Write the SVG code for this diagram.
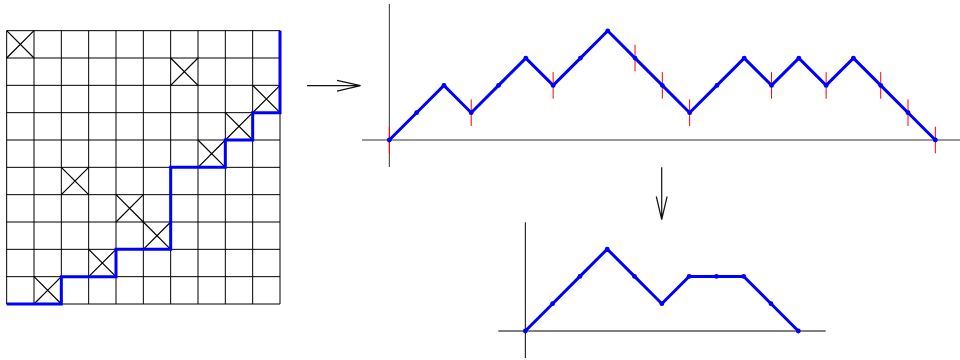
<svg xmlns="http://www.w3.org/2000/svg" width="960" height="360" viewBox="0 0 960 360">
<style>
.grid{stroke:#000;stroke-width:1;fill:none}
.cross{stroke:#000;stroke-width:1.2;fill:none}
.blue{stroke:#0000ff;stroke-width:3;fill:none;stroke-linejoin:miter}
.axis{stroke:#333;stroke-width:1;fill:none}
.tick{stroke:#ff0000;stroke-width:1}
.dot{fill:#0000ff}
.arrow{stroke:#111;stroke-width:1.2;fill:none}
</style>
<rect width="960" height="360" fill="#fff"/>
<g id="grid-matrix">
<path class="grid" d="M6.67,30.67H280M6.67,58H280M6.67,85.33H280M6.67,112.67H280M6.67,140H280M6.67,167.33H280M6.67,194.67H280M6.67,222H280M6.67,249.33H280M6.67,276.67H280M6.67,304H280M6.67,30.67V304M34,30.67V304M61.33,30.67V304M88.67,30.67V304M116,30.67V304M143.33,30.67V304M170.67,30.67V304M198,30.67V304M225.33,30.67V304M252.67,30.67V304M280,30.67V304"/>
<path class="cross" d="M6.67,30.67L34,58M34,30.67L6.67,58M170.67,58L198,85.33M198,58L170.67,85.33M252.67,85.33L280,112.67M280,85.33L252.67,112.67M225.33,112.67L252.67,140M252.67,112.67L225.33,140M198,140L225.33,167.33M225.33,140L198,167.33M61.33,167.33L88.67,194.67M88.67,167.33L61.33,194.67M116,194.67L143.33,222M143.33,194.67L116,222M143.33,222L170.67,249.33M170.67,222L143.33,249.33M88.67,249.33L116,276.67M116,249.33L88.67,276.67M34,276.67L61.33,304M61.33,276.67L34,304"/>
<path class="blue" d="M6.67,304H61.33V276.67H116V249.33H170.67V167.33H225.33V140H252.67V112.67H280V30.67"/>
</g>
<g id="path-top">
<path class="axis" d="M389.33,4V167M362,140H960"/>
<path class="tick" d="M389.33,126.7V153.3M471.23,99.4V126M553.13,72.1V98.7M635.03,44.8V71.4M662.33,72.1V98.7M689.63,99.4V126M771.53,72.1V98.7M826.13,72.1V98.7M880.73,72.1V98.7M908.03,99.4V126M935.33,126.7V153.3"/>
<polyline class="blue" points="389.33,140 416.63,112.7 443.93,85.4 471.23,112.7 498.53,85.4 525.83,58.1 553.13,85.4 580.43,58.1 607.73,30.8 635.03,58.1 662.33,85.4 689.63,112.7 716.93,85.4 744.23,58.1 771.53,85.4 798.83,58.1 826.13,85.4 853.43,58.1 880.73,85.4 908.03,112.7 935.33,140"/>
<g class="dot">
<circle cx="389.33" cy="140" r="2.4"/><circle cx="416.63" cy="112.7" r="2.4"/><circle cx="443.93" cy="85.4" r="2.4"/><circle cx="471.23" cy="112.7" r="2.4"/><circle cx="498.53" cy="85.4" r="2.4"/><circle cx="525.83" cy="58.1" r="2.4"/><circle cx="553.13" cy="85.4" r="2.4"/><circle cx="580.43" cy="58.1" r="2.4"/><circle cx="607.73" cy="30.8" r="2.4"/><circle cx="635.03" cy="58.1" r="2.4"/><circle cx="662.33" cy="85.4" r="2.4"/><circle cx="689.63" cy="112.7" r="2.4"/><circle cx="716.93" cy="85.4" r="2.4"/><circle cx="744.23" cy="58.1" r="2.4"/><circle cx="771.53" cy="85.4" r="2.4"/><circle cx="798.83" cy="58.1" r="2.4"/><circle cx="826.13" cy="85.4" r="2.4"/><circle cx="853.43" cy="58.1" r="2.4"/><circle cx="880.73" cy="85.4" r="2.4"/><circle cx="908.03" cy="112.7" r="2.4"/><circle cx="935.33" cy="140" r="2.4"/>
</g>
</g>
<g id="path-bottom">
<path class="axis" style="stroke:#000" d="M525.33,222.3V358M498.3,331H825.7"/>
<polyline class="blue" points="525.33,331 552.63,303.7 579.93,276.4 607.23,249.1 634.53,276.4 661.83,303.7 689.13,276.4 716.43,276.4 743.73,276.4 771.03,303.7 798.33,331"/>
<g class="dot">
<circle cx="525.33" cy="331" r="2.4"/><circle cx="552.63" cy="303.7" r="2.4"/><circle cx="579.93" cy="276.4" r="2.4"/><circle cx="607.23" cy="249.1" r="2.4"/><circle cx="634.53" cy="276.4" r="2.4"/><circle cx="661.83" cy="303.7" r="2.4"/><circle cx="689.13" cy="276.4" r="2.4"/><circle cx="716.43" cy="276.4" r="2.4"/><circle cx="743.73" cy="276.4" r="2.4"/><circle cx="771.03" cy="303.7" r="2.4"/><circle cx="798.33" cy="331" r="2.4"/>
</g>
</g>
<g id="connectors">
<path class="arrow" d="M307,85.7H360.5M337,80.3L360.5,85.7L337,91.1"/>
<path class="arrow" d="M661.7,167.3V219.5M656.3,196.5L661.7,219.5L667.1,196.5"/>
</g>
</svg>
